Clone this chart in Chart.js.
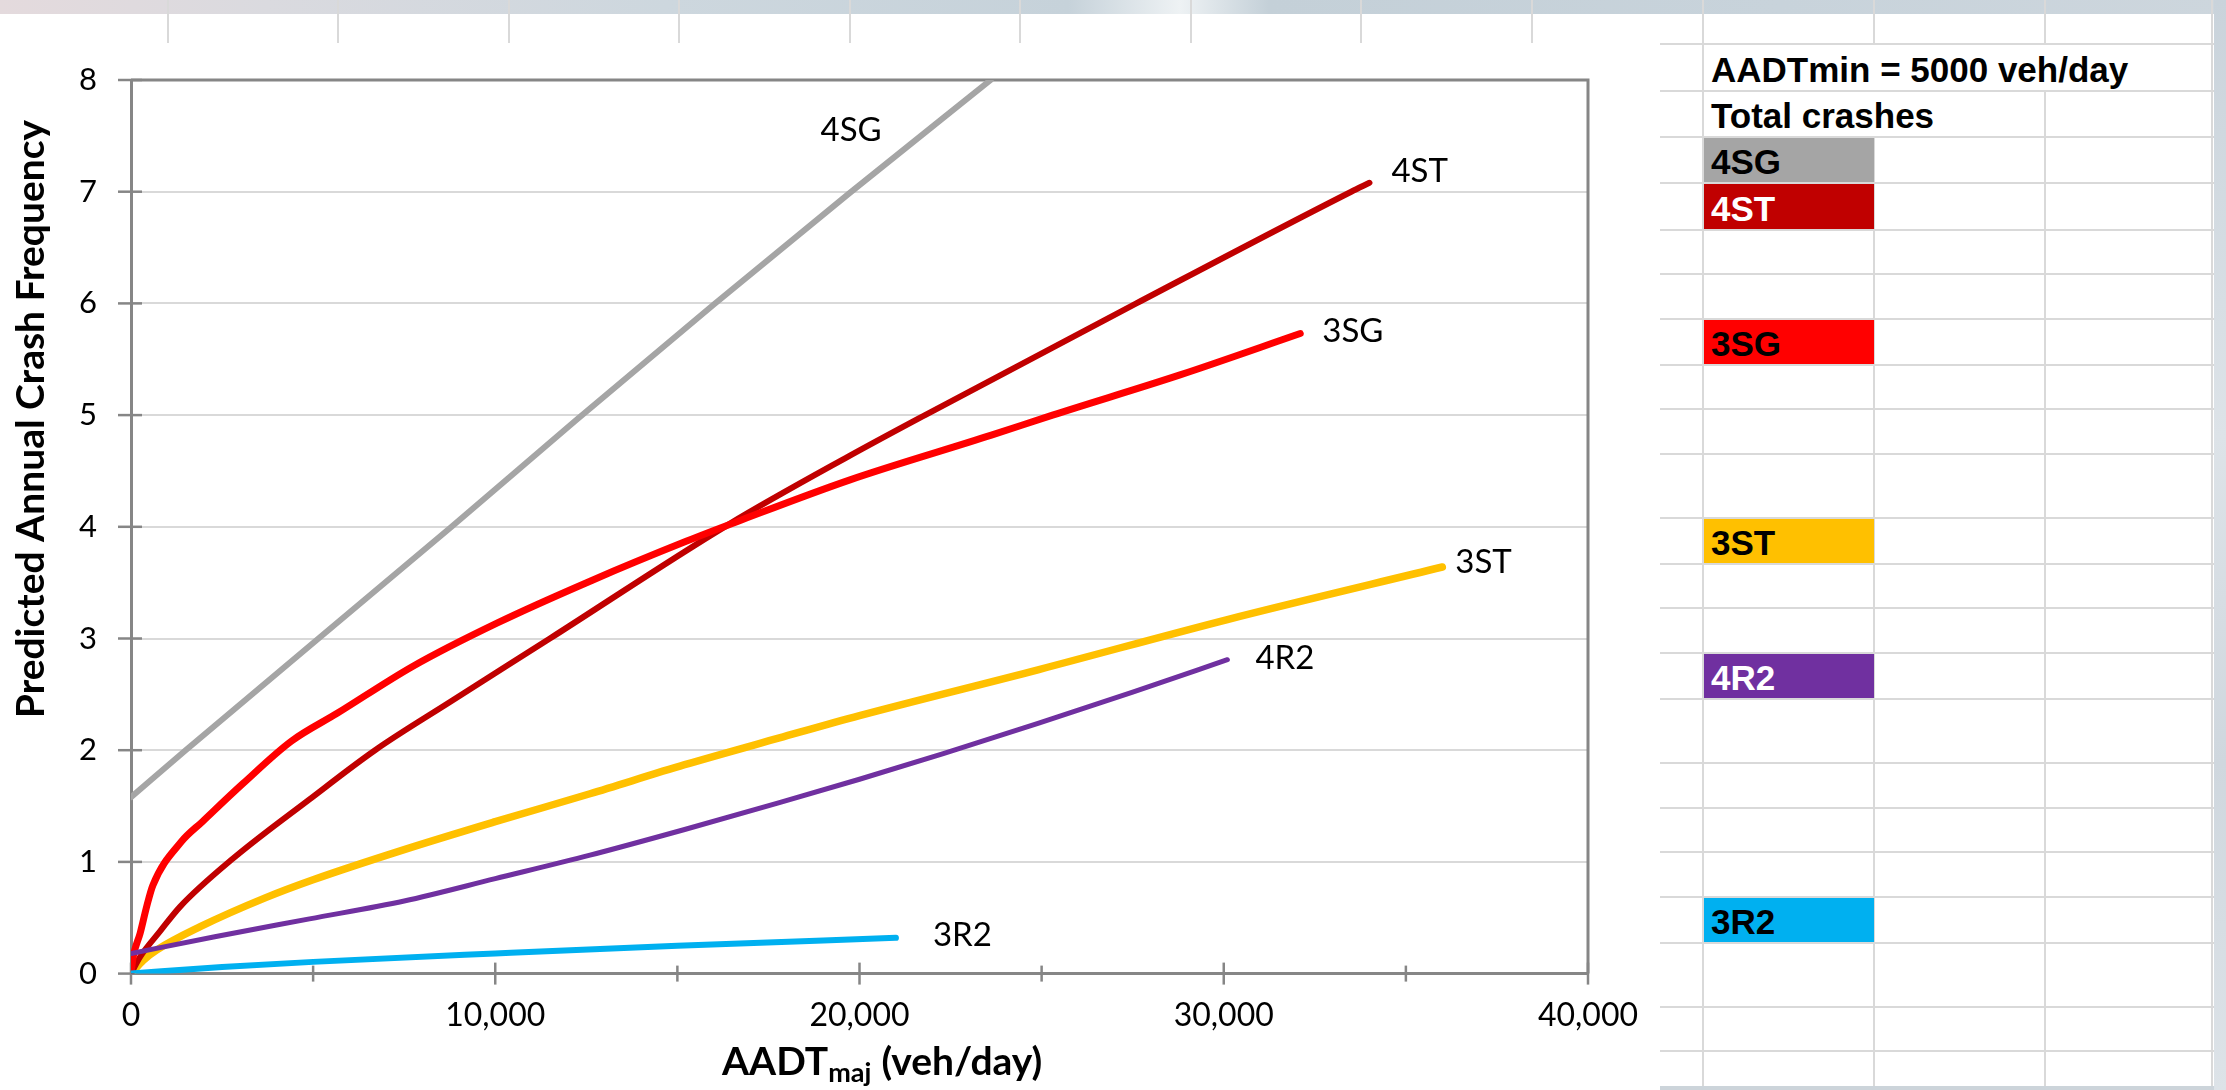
<!DOCTYPE html>
<html lang="en">
<head>
<meta charset="utf-8">
<title>Predicted Annual Crash Frequency</title>
<script src="https://cdn.jsdelivr.net/npm/chart.js@4.4.1/dist/chart.umd.min.js"></script>
<style>
  html, body { margin: 0; padding: 0; background: #fff; }
  body { position: relative; width: 2226px; height: 1090px; overflow: hidden; }
  #band { position: absolute; left: 0; top: 0; width: 2226px; height: 14px;
    background: linear-gradient(90deg, #e4dadd 0%, #dadadf 12%, #cdd7de 30%, #c6d2da 48%, #eef2f4 53%, #c4d0d8 57%, #c8d3db 80%, #cdd6dd 100%); }
  #edge { position: absolute; left: 2214px; top: 0; width: 12px; height: 1090px;
    background: linear-gradient(180deg, #c9d3db, #dde3e8 40%, #cfd7de 70%, #dde3e8); }
  #bottom { position: absolute; left: 1660px; top: 1086px; width: 554px; height: 4px; background: #ccd4da; }
  .v { position: absolute; width: 2px; background: #d9d9d9; }
  .h { position: absolute; height: 2px; background: #d9d9d9; }
  #chartBox { position: absolute; left: 0; top: 43px; width: 1660px; height: 1047px; background: #fff; }
  .cell { position: absolute; box-sizing: border-box; padding-left: 7px; padding-top: 2px;
    font: bold 35px 'Liberation Sans', Arial, sans-serif; white-space: nowrap; }
</style>
</head>
<body>
<div id="band"></div>
<div id="sheet"></div>
<div id="chartBox"><canvas id="chart"></canvas></div>
<div id="bottom"></div>
<div id="edge"></div>
<script>
// series (intersection types) and their colours
const categories = ['4SG', '4ST', '3SG', '3ST', '4R2', '3R2'];
const colors = ['#a5a5a5', '#c00000', '#ff0000', '#ffc000', '#7030a0', '#00b0f0'];
const legendTextColors = ['#000', '#fff', '#000', '#000', '#fff', '#000'];

// AADTmaj (veh/day) and predicted crashes per year
const aadt4SG = [0, 1500, 8800, 12200, 16000, 19700, 23600];
const crash4SG = [1.58, 2.0, 4.0, 4.95, 5.99, 6.98, 8.0];

const aadt4ST = [0, 250, 800, 1350, 2800, 4900, 6700, 8800, 11500, 16400, 19700, 21800, 27600, 33500, 34000];
const crash4ST = [0, 0.15, 0.38, 0.6, 1.03, 1.56, 2.0, 2.44, 3.0, 4.02, 4.63, 5.0, 6.0, 7.0, 7.08];

const aadt3SG = [0, 60, 250, 430, 600, 1380, 1960, 3070, 4400, 5660, 7730, 10060, 12650, 15240, 16670, 19740, 23620, 25300, 28800, 32100];
const crash3SG = [0, 0.15, 0.36, 0.6, 0.79, 1.18, 1.36, 1.70, 2.08, 2.33, 2.75, 3.14, 3.52, 3.87, 4.05, 4.42, 4.82, 5.0, 5.36, 5.73];

const aadt3ST = [0, 340, 700, 1900, 3700, 5000, 7500, 10000, 12600, 15200, 17800, 20000, 24900, 30100, 36000];
const crash3ST = [0, 0.12, 0.21, 0.42, 0.68, 0.84, 1.11, 1.36, 1.61, 1.87, 2.11, 2.31, 2.72, 3.17, 3.64];

const aadt4R2 = [0, 2300, 4900, 7500, 10000, 12600, 15200, 17800, 20000, 22300, 24900, 27500, 30100];
const crash4R2 = [0.18, 0.33, 0.49, 0.65, 0.85, 1.06, 1.29, 1.53, 1.74, 1.97, 2.24, 2.52, 2.81];

const aadt3R2 = [0, 2500, 5000, 10000, 15000, 21000];
const crash3R2 = [0, 0.06, 0.105, 0.18, 0.25, 0.32];

const xTicks = [0, 10000, 20000, 30000, 40000];
const xMinorTicks = [5000, 15000, 25000, 35000];
const yTicks = [0, 1, 2, 3, 4, 5, 6, 7, 8];

const aadtMinText = 'AADTmin = 5000 veh/day';
const totalText = 'Total crashes';

// ---- spreadsheet behind the chart ----
const topCols = [168, 338, 509, 679, 850, 1020, 1191, 1361, 1532];
const sheetCols = [1703, 1874, 2045, 2212];
const rowLines = [44, 91, 137, 183, 230, 274, 319, 365, 409, 454, 518, 564, 608, 653, 699, 763, 808, 852, 897, 943, 1007, 1051];
const legendRows = [2, 3, 6, 10, 13, 18];

const sheet = document.getElementById('sheet');
function addDiv(cls, css) {
  const d = document.createElement('div');
  d.className = cls;
  Object.assign(d.style, css);
  sheet.appendChild(d);
  return d;
}
topCols.forEach(x => addDiv('v', { left: (x - 1) + 'px', top: '0px', height: '43px' }));
sheetCols.forEach(x => addDiv('v', { left: (x - 1) + 'px', top: '0px', height: '1090px' }));
rowLines.forEach(y => addDiv('h', { left: '1660px', top: (y - 1) + 'px', width: '554px' }));

function textCell(row, right, text, bg, color) {
  const top = rowLines[row] + 1;
  const h = rowLines[row + 1] - rowLines[row] - 2;
  const d = addDiv('cell', { left: '1704px', top: top + 'px', width: (right - 1704) + 'px', height: h + 'px',
    lineHeight: h + 'px', background: bg, color: color });
  d.textContent = text;
}
textCell(0, 2211, aadtMinText, '#fff', '#000');
textCell(1, 2044, totalText, '#fff', '#000');
categories.forEach((c, i) => textCell(legendRows[i], 1874, c, colors[i], legendTextColors[i]));

// ---- chart ----
function pts(xs, ys) { return xs.map((x, i) => ({ x: x, y: ys[i] })); }
const seriesData = {
  '4SG': pts(aadt4SG, crash4SG),
  '4ST': pts(aadt4ST, crash4ST),
  '3SG': pts(aadt3SG, crash3SG),
  '3ST': pts(aadt3ST, crash3ST),
  '4R2': pts(aadt4R2, crash4R2),
  '3R2': pts(aadt3R2, crash3R2)
};
const lineWidths = { '4SG': 6, '4ST': 6, '3SG': 7, '3ST': 7.5, '4R2': 5, '3R2': 6 };
// label offsets (px) from the anchor point; 4SG is labelled mid-line
const labelStyle = {
  '4SG': { at: 5, dx: -28, dy: -65 },
  '4ST': { at: -1, dx: 22, dy: -13 },
  '3SG': { at: -1, dx: 22, dy: -4 },
  '3ST': { at: -1, dx: 13, dy: -6 },
  '4R2': { at: -1, dx: 28, dy: -3 },
  '3R2': { at: -1, dx: 37, dy: -4 }
};
const drawOrder = ['3R2', '4R2', '3SG', '4ST', '3ST', '4SG'];

const datasets = drawOrder.map(name => ({
  label: name,
  data: seriesData[name],
  borderColor: colors[categories.indexOf(name)],
  borderWidth: lineWidths[name],
  borderCapStyle: 'round',
  borderJoinStyle: 'round',
  cubicInterpolationMode: 'monotone',
  pointRadius: 0,
  fill: false
}));

const FONT = 'Lato, "Open Sans", sans-serif';

const decor = {
  id: 'decor',
  beforeDatasetsDraw(chart) {
    const { ctx, chartArea: a, scales: { x, y } } = chart;
    ctx.save();
    ctx.strokeStyle = '#868686';
    ctx.lineWidth = 3;
    ctx.beginPath();
    ctx.moveTo(a.left, a.top);
    ctx.lineTo(a.right, a.top);
    ctx.lineTo(a.right, a.bottom);
    ctx.stroke();
    ctx.lineWidth = 2.5;
    xTicks.forEach(v => {
      const px = x.getPixelForValue(v);
      ctx.beginPath(); ctx.moveTo(px, a.bottom - 11); ctx.lineTo(px, a.bottom + 11); ctx.stroke();
    });
    xMinorTicks.forEach(v => {
      const px = x.getPixelForValue(v);
      ctx.beginPath(); ctx.moveTo(px, a.bottom - 8); ctx.lineTo(px, a.bottom + 8); ctx.stroke();
    });
    yTicks.forEach(v => {
      const py = y.getPixelForValue(v);
      ctx.beginPath(); ctx.moveTo(a.left - 13, py); ctx.lineTo(a.left + 11, py); ctx.stroke();
    });
    ctx.restore();
  },
  afterDraw(chart) {
    const { ctx, scales: { x, y } } = chart;
    ctx.save();
    ctx.fillStyle = '#000';
    // series labels
    ctx.font = '33px ' + FONT;
    ctx.textAlign = 'left';
    ctx.textBaseline = 'alphabetic';
    categories.forEach(name => {
      const st = labelStyle[name];
      const d = seriesData[name];
      const p = d[st.at < 0 ? d.length - 1 : st.at];
      const px = x.getPixelForValue(p.x) + st.dx;
      const py = y.getPixelForValue(p.y) + st.dy + 12;
      ctx.fillText(name, px, py);
    });
    // y axis title
    ctx.save();
    ctx.translate(44, 376);
    ctx.rotate(-Math.PI / 2);
    ctx.font = 'bold 39px ' + FONT;
    ctx.textAlign = 'center';
    ctx.fillText('Predicted Annual Crash Frequency', 0, 0);
    ctx.restore();
    // x axis title with subscript
    let tx = 722;
    const base = 1032;
    ctx.font = 'bold 39px ' + FONT;
    ctx.fillText('AADT', tx, base);
    tx += ctx.measureText('AADT').width;
    ctx.font = 'bold 27px ' + FONT;
    ctx.fillText('maj', tx, base + 7);
    tx += ctx.measureText('maj').width + 10;
    ctx.font = 'bold 39px ' + FONT;
    ctx.fillText('(veh/day)', tx, base);
    ctx.restore();
  }
};

new Chart(document.getElementById('chart'), {
  type: 'line',
  data: { datasets: datasets },
  options: {
    responsive: true,
    maintainAspectRatio: false,
    animation: false,
    layout: { padding: { top: 37, right: 72, left: 0, bottom: 0 } },
    plugins: { legend: { display: false }, tooltip: { enabled: false } },
    scales: {
      x: {
        type: 'linear', min: 0, max: 40000,
        afterBuildTicks: s => { s.ticks = xTicks.map(v => ({ value: v })); },
        afterFit: s => { s.height = 116.4; s.paddingLeft = 0; s.paddingRight = 0; },
        ticks: {
          color: '#000', padding: 23, maxRotation: 0,
          font: { family: FONT, size: 32 },
          callback: v => v.toLocaleString('en-US')
        },
        grid: { display: false, drawTicks: false },
        border: { color: '#868686', width: 3 }
      },
      y: {
        min: 0, max: 8,
        afterBuildTicks: s => { s.ticks = yTicks.map(v => ({ value: v })); },
        afterFit: s => { s.width = 131; s.paddingTop = 0; s.paddingBottom = 0; },
        ticks: { color: '#000', padding: 34, font: { family: FONT, size: 31 } },
        grid: { color: '#d9d9d9', lineWidth: 2, drawTicks: false },
        border: { color: '#868686', width: 3 }
      }
    }
  },
  plugins: [decor]
});
</script>
</body>
</html>
